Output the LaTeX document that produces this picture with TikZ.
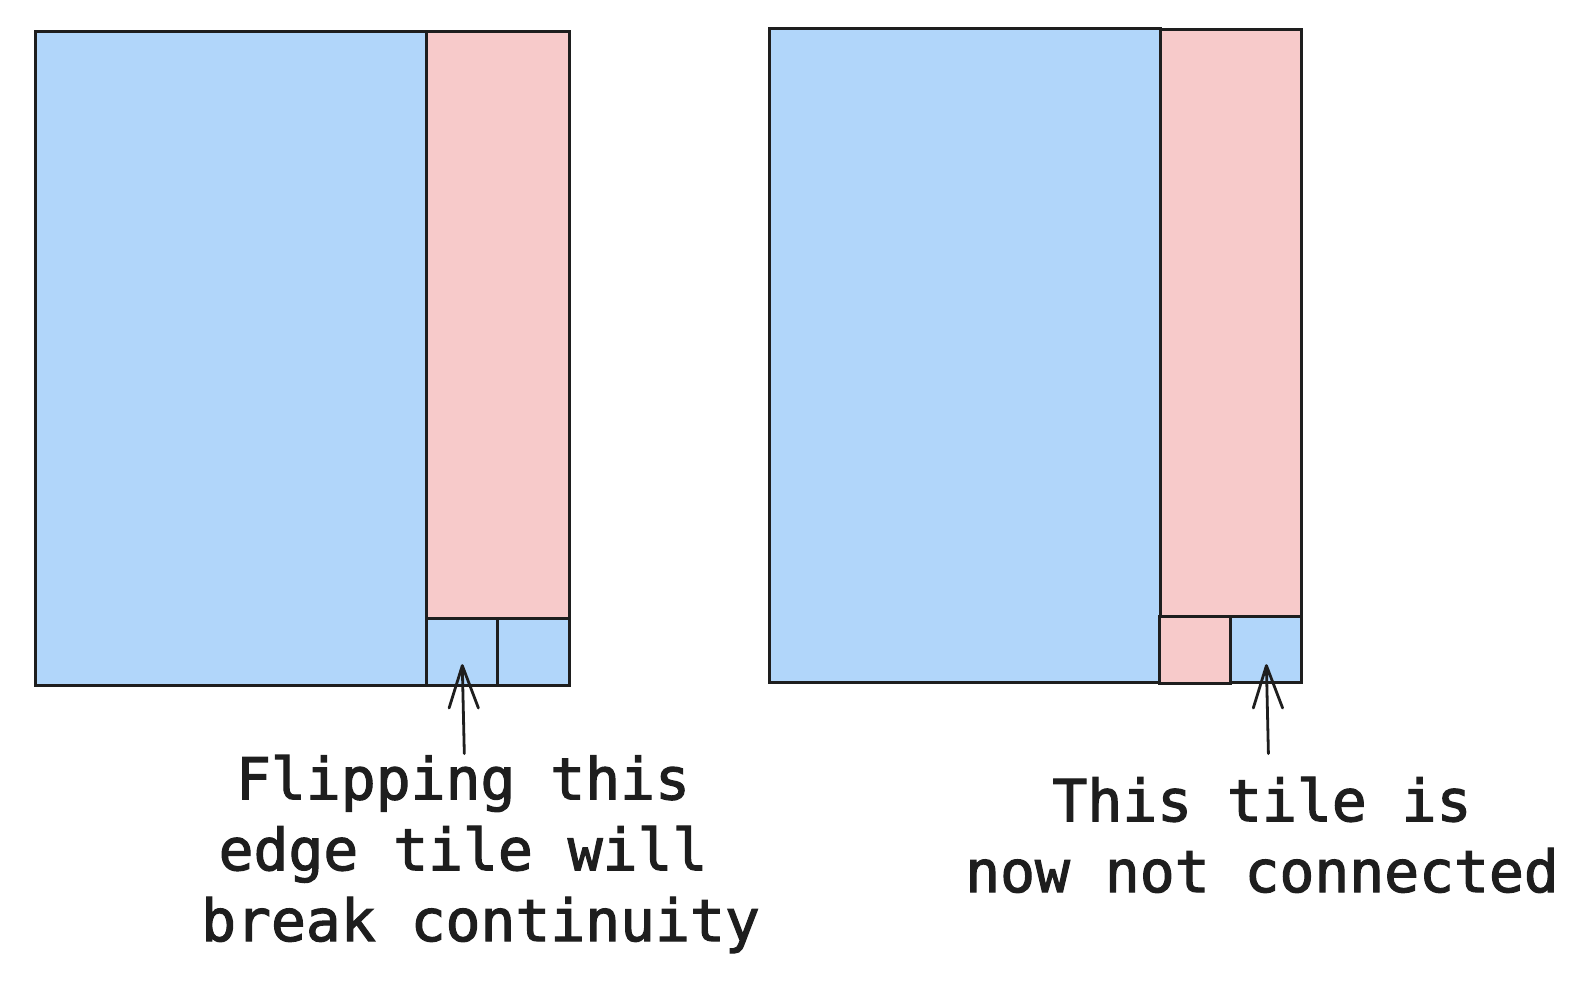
\documentclass[tikz,border=0pt]{standalone}
\usepackage{fontspec}
\setmonofont{DejaVu Sans Mono}[FakeBold=2]
\usetikzlibrary{arrows.meta}
\definecolor{tileblue}{RGB}{177,214,250}
\definecolor{tilepink}{RGB}{247,202,202}
\definecolor{inkc}{RGB}{30,30,30}
\begin{document}
\begin{tikzpicture}[x=1pt,y=-1pt,
  tilebox/.style={draw=inkc, line width=3pt, inner sep=0pt, outer sep=0pt, anchor=north west},
  bluetile/.style={tilebox, fill=tileblue},
  pinktile/.style={tilebox, fill=tilepink},
  pointer/.style={draw=inkc, line width=2.8pt, line cap=round, line join=round},
  note/.style={font=\ttfamily\fontsize{58}{70.8}\selectfont, text=inkc, align=center, inner sep=0pt}]
\useasboundingbox (0,0) rectangle (1586,980);
% left figure
\node[bluetile, minimum width=391.5pt, minimum height=654.4pt] (LA) at (35.4,31.4) {};
\node[pinktile, minimum width=142.6pt, minimum height=586.6pt] (LB) at (426.9,31.4) {};
\node[bluetile, minimum width=70.8pt, minimum height=67.8pt] (LC) at (426.9,618) {};
\node[bluetile, minimum width=71.8pt, minimum height=67.8pt] (LD) at (497.7,618) {};
% right figure
\node[bluetile, minimum width=390.4pt, minimum height=654.5pt] (RA) at (769.8,28.3) {};
\node[pinktile, minimum width=141.6pt, minimum height=586.7pt] (RB) at (1160.2,29.3) {};
\node[pinktile, minimum width=70.8pt, minimum height=67.8pt] (RC) at (1159.2,616) {};
\node[bluetile, minimum width=71.8pt, minimum height=66.8pt] (RD) at (1230,616) {};
% arrows
\coordinate (LS) at (464.3,753.6);
\coordinate (LT) at (462.3,665.6);
\coordinate (LL) at (449.1,708);
\coordinate (LR) at (478.4,708);
\coordinate (RS) at (1268.4,753.6);
\coordinate (RT) at (1266.4,665.6);
\coordinate (RL) at (1253.3,708);
\coordinate (RR) at (1282.6,708);
\draw[pointer] (LS) -- (LT) (LL) -- (LT) -- (LR);
\draw[pointer] (RS) -- (RT) (RL) -- (RT) -- (RR);
% labels
\node[note, anchor=base] (LN) at (480.5,941) {Flipping this\hphantom{x}\\edge tile will\hphantom{x}\\break continuity};
\node[note, anchor=base] (RN) at (1262,892) {This tile is\\now not connected};
\end{tikzpicture}
\end{document}
